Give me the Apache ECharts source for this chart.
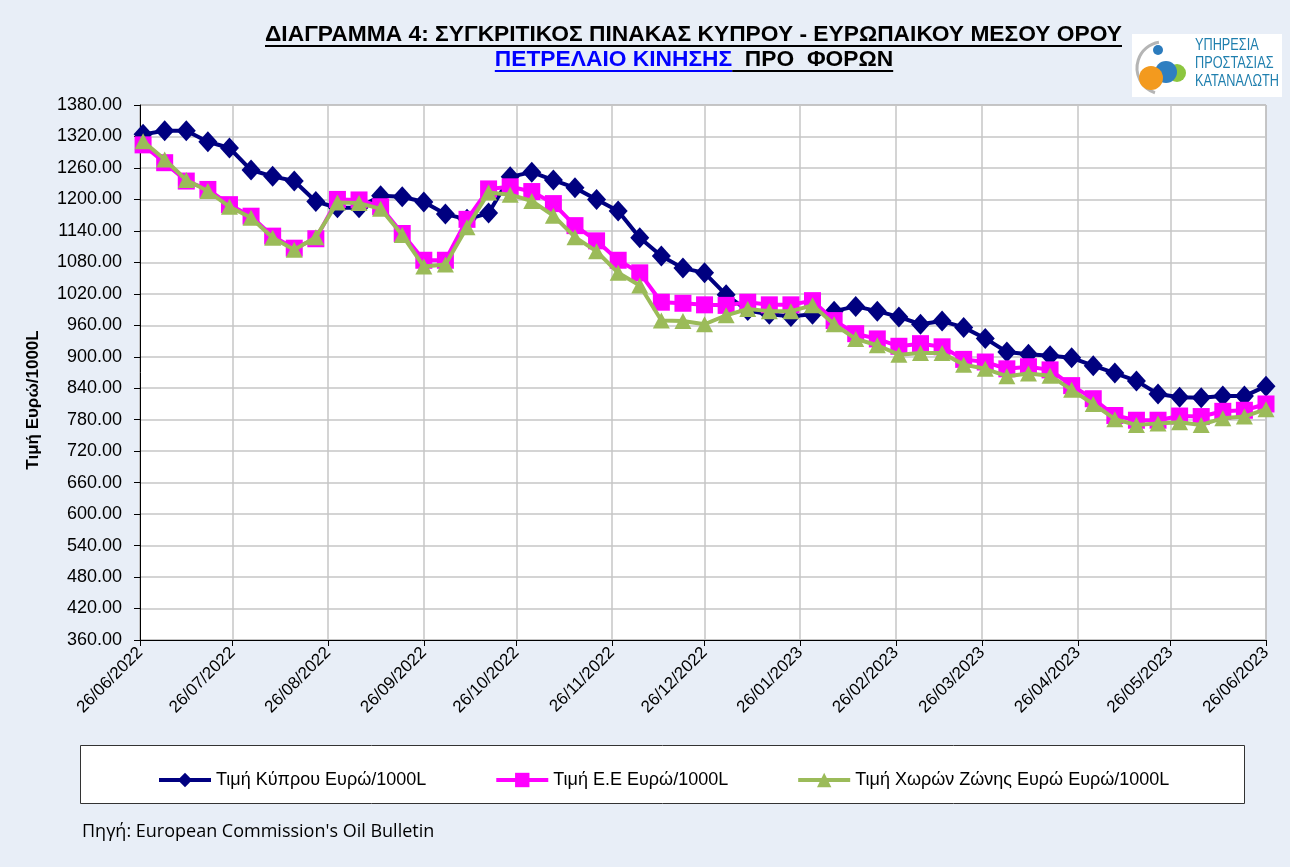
<!DOCTYPE html>
<html>
<head>
<meta charset="utf-8">
<script src="https://cdn.jsdelivr.net/npm/echarts@6/dist/echarts.min.js"></script>
<style>
  html, body { margin: 0; padding: 0; background: #e8eef7; }
  #chart { width: 1290px; height: 867px; }
</style>
</head>
<body>
<div id="chart"></div>
<script>
// ---- Data ----
const weekDates = [
  '2022-06-27','2022-07-04','2022-07-11','2022-07-18','2022-07-25','2022-08-01','2022-08-08','2022-08-15','2022-08-22','2022-08-29',
  '2022-09-05','2022-09-12','2022-09-19','2022-09-26','2022-10-03','2022-10-10','2022-10-17','2022-10-24','2022-10-31','2022-11-07',
  '2022-11-14','2022-11-21','2022-11-28','2022-12-05','2022-12-12','2022-12-19','2022-12-26','2023-01-02','2023-01-09','2023-01-16',
  '2023-01-23','2023-01-30','2023-02-06','2023-02-13','2023-02-20','2023-02-27','2023-03-06','2023-03-13','2023-03-20','2023-03-27',
  '2023-04-03','2023-04-10','2023-04-17','2023-04-24','2023-05-01','2023-05-08','2023-05-15','2023-05-22','2023-05-29','2023-06-05',
  '2023-06-12','2023-06-19','2023-06-26'
];
const cyprus = [
  1324,1331,1331,1310,1298,1256,1244,1235,1196,1184,
  1184,1207,1205,1195,1172,1162,1174,1243,1252,1237,
  1222,1200,1178,1127,1092,1069,1060,1018,988,981,
  977,981,987,996,987,976,962,968,956,935,
  909,905,902,898,883,869,854,829,823,822,
  825,825,844
];
const eu = [
  1304,1270,1235,1219,1190,1168,1130,1107,1125,1200,
  1199,1186,1135,1084,1084,1162,1220,1224,1215,1192,
  1150,1121,1084,1060,1004,1002,999,998,1004,999,
  999,1007,969,944,934,920,925,919,895,890,
  877,881,875,845,820,788,779,779,787,786,
  796,798,810
];
const euroZone = [
  1311,1276,1237,1216,1186,1165,1127,1104,1128,1194,
  1193,1182,1132,1072,1076,1147,1213,1209,1197,1169,
  1128,1101,1060,1036,969,968,962,979,991,987,
  987,998,962,934,922,904,907,907,885,877,
  863,868,864,837,810,781,770,773,775,770,
  783,786,800
];
const monthTicks = [
  '2022-06-26','2022-07-26','2022-08-26','2022-09-26','2022-10-26','2022-11-26','2022-12-26',
  '2023-01-26','2023-02-26','2023-03-26','2023-04-26','2023-05-26','2023-06-26'
];
const seriesNames = ['Τιμή Κύπρου Ευρώ/1000L', 'Τιμή Ε.Ε Ευρώ/1000L', 'Τιμή Χωρών Ζώνης Ευρώ Ευρώ/1000L'];
const titleLine1 = 'ΔΙΑΓΡΑΜΜΑ 4: ΣΥΓΚΡΙΤΙΚΟΣ ΠΙΝΑΚΑΣ ΚΥΠΡΟΥ - ΕΥΡΩΠΑΙΚΟΥ ΜΕΣΟΥ ΟΡΟΥ';
const titleLine2a = 'ΠΕΤΡΕΛΑΙΟ ΚΙΝΗΣΗΣ';
const titleLine2b = '  ΠΡΟ  ΦΟΡΩΝ';
const yAxisTitle = 'Τιμή Ευρώ/1000L';
const sourceText = "Πηγή: European Commission's Oil Bulletin";
const logoLines = ['ΥΠΗΡΕΣΙΑ', 'ΠΡΟΣΤΑΣΙΑΣ', 'ΚΑΤΑΝΑΛΩΤΗ'];

// ---- helpers ----
const ts = s => new Date(s + 'T00:00:00Z').getTime();
const pair = arr => weekDates.map((d, i) => [ts(d), arr[i]]);
const pad = n => (n < 10 ? '0' : '') + n;
const fmtDate = v => { const d = new Date(v); return pad(d.getUTCDate()) + '/' + pad(d.getUTCMonth() + 1) + '/' + d.getUTCFullYear(); };
const tickValues = monthTicks.map(ts);

const mctx = document.createElement('canvas').getContext('2d');
function tw(text, font) { mctx.font = font; return mctx.measureText(text).width; }

const titleFont = 'bold 22px "Liberation Sans", Arial, sans-serif';
const t1w = tw(titleLine1, titleFont);
const sx = 857 / t1w;
const t2aw = tw(titleLine2a, titleFont) * sx;
const t2bw = tw(titleLine2b, titleFont) * sx;
const t2start = 694 - (t2aw + t2bw) / 2;

const logoFont = '16px "Liberation Sans", Arial, sans-serif';
const logoW = tw(logoLines[2], logoFont);
const logoSx = 84 / logoW;

const chart = echarts.init(document.getElementById('chart'), null, { renderer: 'canvas' });
const option = {
  backgroundColor: '#e8eef7',
  animation: false,
  textStyle: { fontFamily: '"Liberation Sans", Arial, sans-serif' },
  grid: {
    left: 140, right: 24, top: 105, bottom: 227,
    show: true, backgroundColor: '#ffffff', borderColor: '#8c8c8c', borderWidth: 1
  },
  xAxis: {
    type: 'value',
    min: tickValues[0],
    max: tickValues[tickValues.length - 1],
    axisLine: { show: true, onZero: false, lineStyle: { color: '#000', width: 1 } },
    axisTick: { show: true, length: 6, lineStyle: { color: '#000' }, customValues: tickValues },
    axisLabel: {
      customValues: tickValues,
      rotate: 45, margin: 10, fontSize: 17, color: '#000',
      formatter: v => fmtDate(v),
      hideOverlap: false
    },
    splitLine: { show: true, lineStyle: { color: '#c6c6c6', width: 1.5 } }
  },
  yAxis: {
    type: 'value', min: 360, max: 1380, interval: 60,
    axisLine: { show: true, lineStyle: { color: '#000', width: 1 } },
    axisTick: { show: true, length: 6, lineStyle: { color: '#000' } },
    axisLabel: { fontSize: 18, color: '#000', margin: 18, formatter: v => v.toFixed(2) },
    splitLine: { show: true, lineStyle: { color: '#c6c6c6', width: 1.5 } }
  },
  legend: {
    left: 152, top: 766,
    itemWidth: 52, itemHeight: 18, itemGap: 68,
    lineStyle: { width: 4 },
    textStyle: { fontSize: 18, color: '#000' },
    data: seriesNames
  },
  series: [
    {
      name: seriesNames[0], type: 'line', data: pair(cyprus),
      symbol: 'diamond', symbolSize: [19, 21], z: 2,
      lineStyle: { color: '#000080', width: 4 },
      itemStyle: { color: '#000080' }
    },
    {
      name: seriesNames[1], type: 'line', data: pair(eu),
      symbol: 'rect', symbolSize: 17, z: 3,
      lineStyle: { color: '#ff00ff', width: 4 },
      itemStyle: { color: '#ff00ff' }
    },
    {
      name: seriesNames[2], type: 'line', data: pair(euroZone),
      symbol: 'triangle', symbolSize: [17, 16], z: 4,
      lineStyle: { color: '#9bbb59', width: 4 },
      itemStyle: { color: '#9bbb59' }
    }
  ],
  graphic: [
    { type: 'text', x: 265, y: 35, scaleX: sx, style: { text: titleLine1, font: titleFont, fill: '#000', verticalAlign: 'middle', align: 'left' } },
    { type: 'rect', shape: { x: 265, y: 45, width: t1w * sx, height: 2 }, style: { fill: '#000' } },
    { type: 'text', x: t2start, y: 60, scaleX: sx, style: { text: titleLine2a, font: titleFont, fill: '#0000ff', verticalAlign: 'middle', align: 'left' } },
    { type: 'rect', shape: { x: t2start, y: 70, width: t2aw, height: 2 }, style: { fill: '#0000ff' } },
    { type: 'text', x: t2start + t2aw, y: 60, scaleX: sx, style: { text: titleLine2b, font: titleFont, fill: '#000', verticalAlign: 'middle', align: 'left' } },
    { type: 'rect', shape: { x: t2start + t2aw, y: 70, width: t2bw, height: 2 }, style: { fill: '#000' } },
    { type: 'rect', shape: { x: 1132, y: 34, width: 150, height: 63 }, style: { fill: '#ffffff' } },
    { type: 'arc', shape: { cx: 1163, cy: 68, r: 26, startAngle: Math.PI * 0.6, endAngle: Math.PI * 1.45 }, style: { stroke: '#b5b5b5', lineWidth: 3, fill: null } },
    { type: 'circle', shape: { cx: 1158, cy: 50, r: 5 }, style: { fill: '#2b7bbd' } },
    { type: 'circle', shape: { cx: 1177, cy: 73, r: 9 }, style: { fill: '#8cc63f' } },
    { type: 'circle', shape: { cx: 1166, cy: 72, r: 11 }, style: { fill: '#2f7fc1' } },
    { type: 'circle', shape: { cx: 1151, cy: 78, r: 12 }, style: { fill: '#f39a1e' } },
    { type: 'text', x: 1195, y: 46, scaleX: logoSx, style: { text: logoLines[0], font: logoFont, fill: '#1f7fae', verticalAlign: 'middle' } },
    { type: 'text', x: 1195, y: 64, scaleX: logoSx, style: { text: logoLines[1], font: logoFont, fill: '#1f7fae', verticalAlign: 'middle' } },
    { type: 'text', x: 1195, y: 82, scaleX: logoSx, style: { text: logoLines[2], font: logoFont, fill: '#1f7fae', verticalAlign: 'middle' } },
    { type: 'text', x: 33, y: 400, rotation: Math.PI / 2, style: { text: yAxisTitle, font: 'bold 17px "Liberation Sans", Arial, sans-serif', fill: '#000', align: 'center', verticalAlign: 'middle' } },
    { type: 'rect', z: -1, shape: { x: 80.5, y: 745.5, width: 1164, height: 58 }, style: { fill: '#ffffff', stroke: '#333', lineWidth: 1 } },
    { type: 'text', x: 82, y: 832, style: { text: sourceText, font: '18px "Open Sans", "Noto Sans", sans-serif', fill: '#000', verticalAlign: 'middle' } }
  ]
};
chart.setOption(option);
</script>
</body>
</html>
